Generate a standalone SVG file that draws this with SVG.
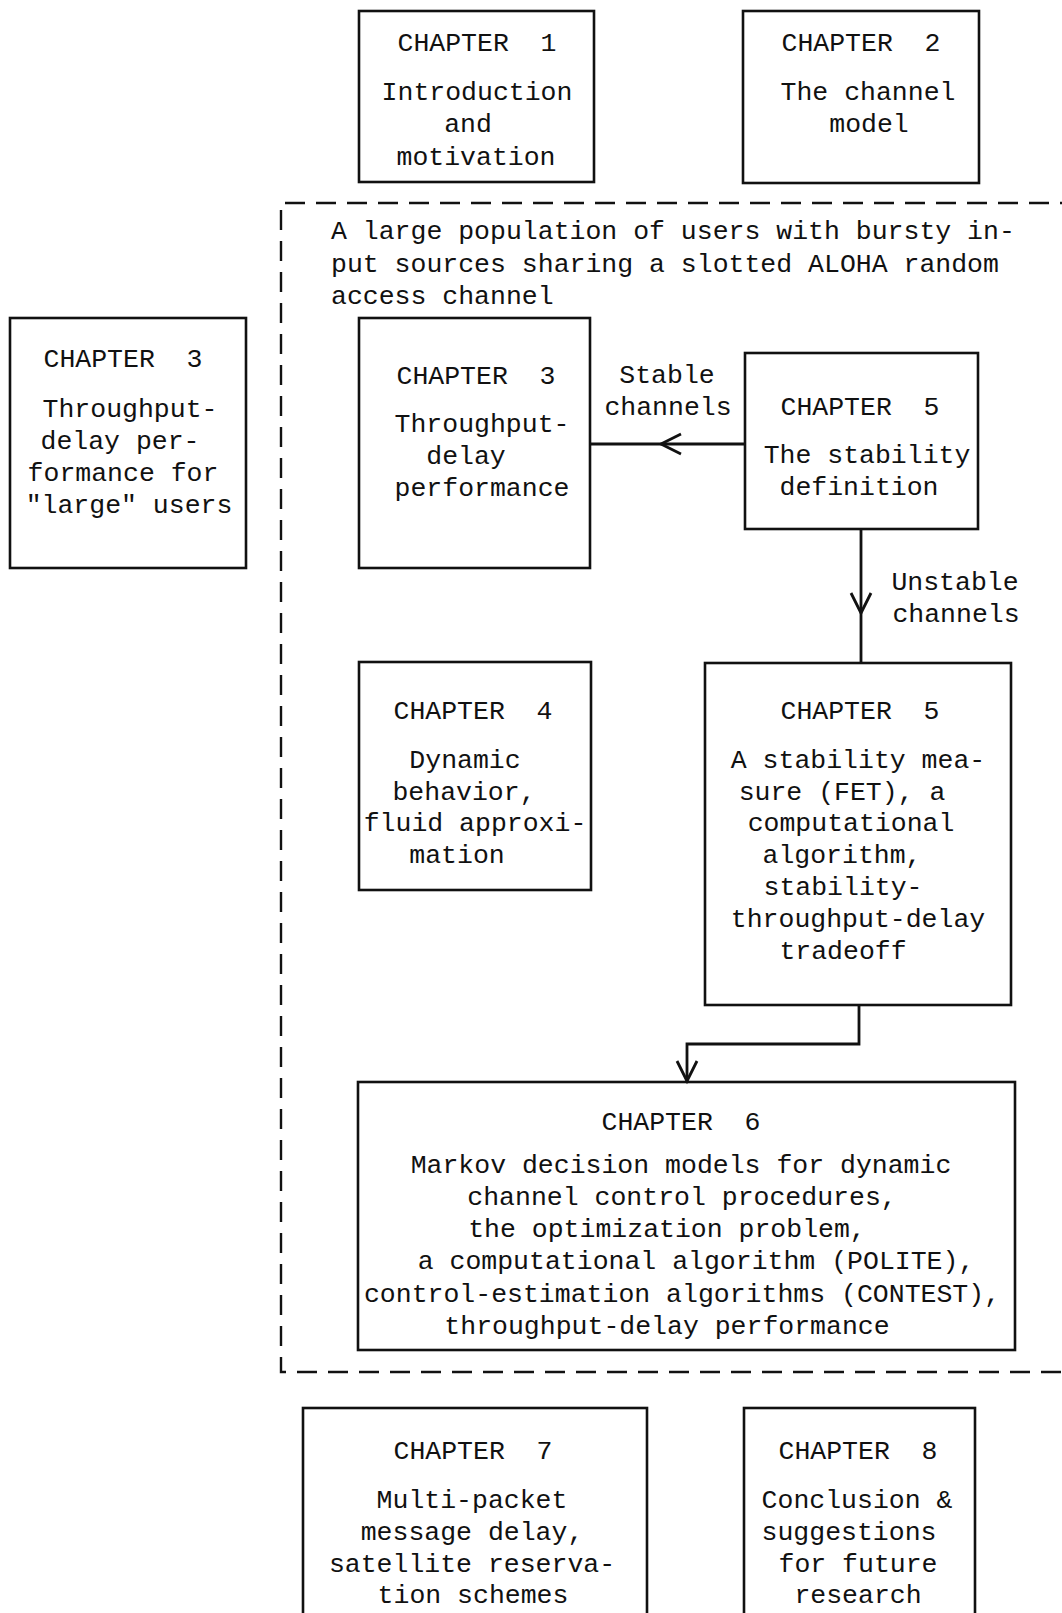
<svg xmlns="http://www.w3.org/2000/svg" width="1062" height="1613" viewBox="0 0 1062 1613">
  <style>
    .box { fill: none; stroke: #111; stroke-width: 2.6; }
    .frame { fill: none; stroke: #111; stroke-width: 2.4; stroke-dasharray: 20 11; }
    .wire { fill: none; stroke: #111; stroke-width: 2.8; }
    text { font-family: "Liberation Mono", "DejaVu Sans Mono", monospace; font-size: 26.5px; fill: #111; text-anchor: middle; }
    .lead { text-anchor: start; }
  </style>
  <defs>
    <!-- open "V" arrowhead, tip at the reference point -->
    <marker id="vee" markerUnits="userSpaceOnUse" markerWidth="40" markerHeight="40" viewBox="-20 -20 40 40" refX="0" refY="0" orient="auto" overflow="visible">
      <path d="M-20,-10 L0,0 L-20,10" fill="none" stroke="#111" stroke-width="2.8"/>
    </marker>
  </defs>
  <rect width="1062" height="1613" fill="#fff"/>

  <!-- dashed grouping frame -->
  <g id="scope">
    <path class="frame" d="M1080,203 L281,203 L281,1372 L1080,1372"/>
    <text class="lead" x="331" y="239">A large population of users with bursty in-</text>
    <text class="lead" x="331" y="272">put sources sharing a slotted ALOHA random</text>
    <text class="lead" x="331" y="304">access channel</text>
  </g>

  <!-- connectors -->
  <g id="connectors">
    <path class="wire" d="M744,444 L661,444 L591,444" marker-mid="url(#vee)"/>
    <path class="wire" d="M861,530 L861,613 L861,663" marker-mid="url(#vee)"/>
    <path class="wire" d="M859,1006 L859,1044 L687,1044 L687,1081" marker-end="url(#vee)"/>
    <text x="667" y="383">Stable</text>
    <text x="668" y="415">channels</text>
    <text x="955" y="590">Unstable</text>
    <text x="956" y="622">channels</text>
  </g>

  <g id="ch1">
    <rect class="box" x="359" y="11" width="235" height="171"/>
    <text x="477" y="51" xml:space="preserve">CHAPTER  1</text>
    <text x="477" y="100">Introduction</text>
    <text x="468" y="132">and</text>
    <text x="476" y="165">motivation</text>
  </g>

  <g id="ch2">
    <rect class="box" x="743" y="11" width="236" height="172"/>
    <text x="861" y="51" xml:space="preserve">CHAPTER  2</text>
    <text x="868" y="100">The channel</text>
    <text x="869" y="132">model</text>
  </g>

  <g id="ch3-large">
    <rect class="box" x="10" y="318" width="236" height="250"/>
    <text x="123" y="367" xml:space="preserve">CHAPTER  3</text>
    <text x="130" y="417">Throughput-</text>
    <text x="120" y="449">delay per-</text>
    <text x="123" y="481">formance for</text>
    <text x="129" y="513">"large" users</text>
  </g>

  <g id="ch3">
    <rect class="box" x="359" y="318" width="231" height="250"/>
    <text x="476" y="384" xml:space="preserve">CHAPTER  3</text>
    <text x="482" y="432">Throughput-</text>
    <text x="466" y="464">delay</text>
    <text x="482" y="496">performance</text>
  </g>

  <g id="ch5-definition">
    <rect class="box" x="745" y="353" width="233" height="176"/>
    <text x="860" y="415" xml:space="preserve">CHAPTER  5</text>
    <text x="867" y="463">The stability</text>
    <text x="859" y="495">definition</text>
  </g>

  <g id="ch4">
    <rect class="box" x="359" y="662" width="232" height="228"/>
    <text x="473" y="719" xml:space="preserve">CHAPTER  4</text>
    <text x="465" y="768">Dynamic</text>
    <text x="464" y="800">behavior,</text>
    <text x="475" y="831">fluid approxi-</text>
    <text x="457" y="863">mation</text>
  </g>

  <g id="ch5-measure">
    <rect class="box" x="705" y="663" width="306" height="342"/>
    <text x="860" y="719" xml:space="preserve">CHAPTER  5</text>
    <text x="858" y="768">A stability mea-</text>
    <text x="842" y="800">sure (FET), a</text>
    <text x="851" y="831">computational</text>
    <text x="842" y="863">algorithm,</text>
    <text x="843" y="895">stability-</text>
    <text x="858" y="927">throughput-delay</text>
    <text x="843" y="959">tradeoff</text>
  </g>

  <g id="ch6">
    <rect class="box" x="358" y="1082" width="657" height="268"/>
    <text x="681" y="1130" xml:space="preserve">CHAPTER  6</text>
    <text x="681" y="1173">Markov decision models for dynamic</text>
    <text x="682" y="1205">channel control procedures,</text>
    <text x="667" y="1237">the optimization problem,</text>
    <text x="696" y="1269">a computational algorithm (POLITE),</text>
    <text x="682" y="1302">control-estimation algorithms (CONTEST),</text>
    <text x="667" y="1334">throughput-delay performance</text>
  </g>

  <g id="ch7">
    <rect class="box" x="303" y="1408" width="344" height="230"/>
    <text x="473" y="1459" xml:space="preserve">CHAPTER  7</text>
    <text x="472" y="1508">Multi-packet</text>
    <text x="472" y="1540">message delay,</text>
    <text x="472" y="1572">satellite reserva-</text>
    <text x="473" y="1603">tion schemes</text>
  </g>

  <g id="ch8">
    <rect class="box" x="744" y="1408" width="231" height="230"/>
    <text x="858" y="1459" xml:space="preserve">CHAPTER  8</text>
    <text x="857" y="1508">Conclusion &amp;</text>
    <text x="849" y="1540">suggestions</text>
    <text x="858" y="1572">for future</text>
    <text x="858" y="1603">research</text>
  </g>
</svg>
